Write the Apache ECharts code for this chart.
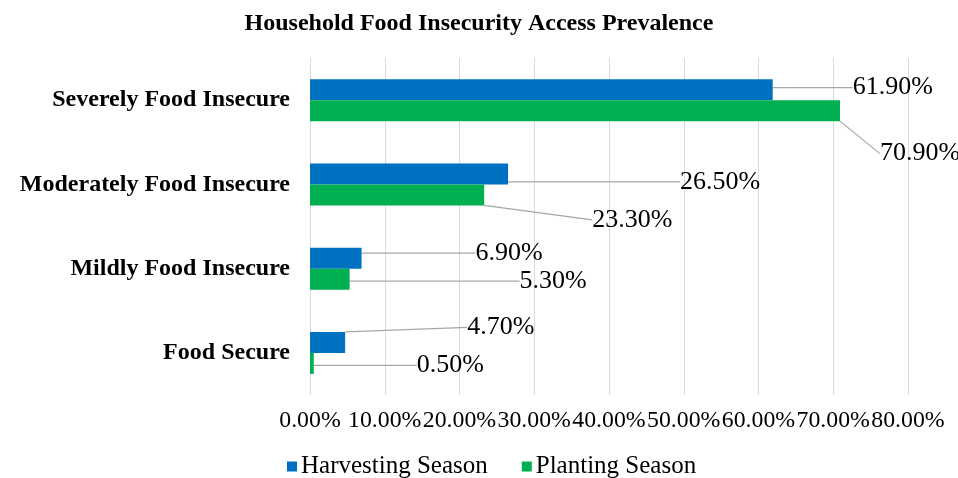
<!DOCTYPE html>
<html><head><meta charset="utf-8">
<script src="https://cdn.jsdelivr.net/npm/echarts@6/dist/echarts.min.js"></script>
<style>html,body{margin:0;padding:0;background:#fff}#c{width:958px;height:478px}</style>
</head><body><div id="c"></div>
<script>
// Data (top to bottom)
const categories = ['Severely Food Insecure', 'Moderately Food Insecure', 'Mildly Food Insecure', 'Food Secure'];
const harvesting = [61.9, 26.5, 6.9, 4.7];
const planting = [70.9, 23.3, 5.3, 0.5];
const seriesNames = ['Harvesting Season', 'Planting Season'];
const xTicks = [0, 10, 20, 30, 40, 50, 60, 70, 80];

// label offsets (style only): [seriesIndex][dataIndex] -> [dx, dy]
const labelOffsets = [
  [[75, -2], [167, 8], [109, -5], [117, -15]],
  [[35, 43], [103, 25], [165, 2], [98, 2]]
];

const FONT = '"Liberation Serif", "Times New Roman", serif';
const chart = echarts.init(document.getElementById('c'));
const mkSeries = (name, data, color, si) => ({
  name, type: 'bar', data,
  barWidth: 21,
  barGap: '0%',
  itemStyle: { color },
  label: {
    show: true, position: 'right', distance: 5,
    formatter: p => p.value.toFixed(2) + '%',
    fontFamily: FONT, fontSize: 26, color: '#000'
  },
  labelLine: { show: true, lineStyle: { color: '#a6a6a6', width: 1.2 } },
  labelLayout: p => ({ dx: labelOffsets[si][p.dataIndex][0], dy: labelOffsets[si][p.dataIndex][1] })
});

chart.setOption({
  animation: false,
  title: {
    text: 'Household Food Insecurity Access Prevalence',
    left: 'center', top: 7,
    textStyle: { fontFamily: FONT, fontSize: 24, fontWeight: 'bold', color: '#000' }
  },
  legend: {
    data: seriesNames, top: 449, left: 282,
    icon: 'rect', itemWidth: 10, itemHeight: 10, itemGap: 34,
    textStyle: { fontFamily: FONT, fontSize: 25, color: '#000', padding: [0, 0, 0, -1] }
  },
  grid: { left: 310, right: 50, top: 58, bottom: 83 },
  xAxis: {
    type: 'value', min: xTicks[0], max: xTicks[xTicks.length - 1], interval: 10,
    axisLine: { show: false }, axisTick: { show: false },
    splitLine: { show: true, lineStyle: { color: '#d9d9d9', width: 1 } },
    axisLabel: { formatter: v => v.toFixed(2) + '%', fontFamily: FONT, fontSize: 23.8, color: '#000', margin: 14,
      hideOverlap: false, showMaxLabel: true, showMinLabel: true }
  },
  yAxis: {
    type: 'category', data: categories, inverse: true,
    axisLine: { show: false }, axisTick: { show: false },
    axisLabel: { fontFamily: FONT, fontSize: 24, fontWeight: 'bold', color: '#000', margin: 20 }
  },
  series: [
    mkSeries(seriesNames[0], harvesting, '#0070C0', 0),
    mkSeries(seriesNames[1], planting, '#00B050', 1)
  ]
});
</script></body></html>
